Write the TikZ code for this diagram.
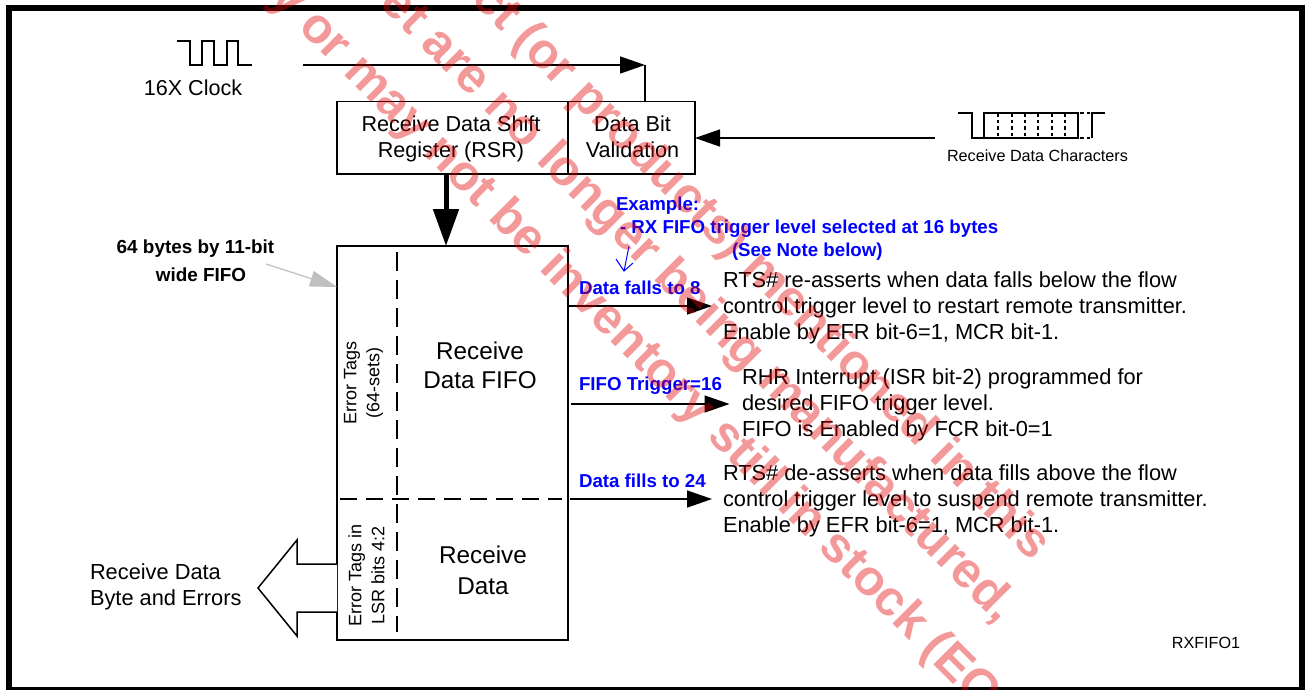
\documentclass[tikz,border=0pt]{standalone}
\usepackage{fontspec}
\setmainfont{Liberation Sans}
\usetikzlibrary{arrows.meta}
\definecolor{noteblue}{RGB}{0,0,255}
\definecolor{arrowgrey}{RGB}{192,192,192}
\tikzset{
  every node/.style={inner sep=0pt,outer sep=0pt},
  box/.style={draw=black,line width=1.5pt,anchor=north west},
  wire/.style={line width=1.5pt,draw=black},
  thin wave/.style={line width=1.2pt,draw=black},
  head/.style={-{Triangle[length=25pt,width=17pt]}},
  dashline/.style={line width=1.4pt,dash pattern=on 17pt off 9pt},
  dashlinev/.style={line width=1.4pt,dash pattern=on 19pt off 9pt},
  body/.style={font=\fontsize{21.8}{26}\selectfont,align=left,anchor=west,text=black},
  bodyc/.style={font=\fontsize{21.6}{26}\selectfont,align=center,text=black},
  bigc/.style={font=\fontsize{24.3}{31}\selectfont,align=center,text=black},
  vert/.style={font=\fontsize{18}{23}\selectfont,rotate=90,align=center,text=black},
  small/.style={font=\fontsize{16.2}{18}\selectfont,text=black},
  bluetxt/.style={font=\fontsize{18.7}{23}\selectfont\bfseries,text=noteblue,anchor=west},
  blacktxt/.style={font=\fontsize{18.9}{28}\selectfont\bfseries,align=center,text=black},
  stamp/.style={font=\fontsize{49.8}{50}\selectfont\bfseries,text=red!90!black,text opacity=0.4,rotate=-45,anchor=base west},
}
\begin{document}
\begin{tikzpicture}[x=1pt,y=-1pt]
\useasboundingbox (0,0) rectangle (1305,689);
\fill[white] (0,0) rectangle (1305,689);
\draw[line width=6pt] (9,8) rectangle (1301.5,690);

% clock
\draw[thin wave] (177,41) -- (190,41) -- (190,65) -- (202,65) -- (202,41) -- (214,41) -- (214,65) -- (227,65) -- (227,41) -- (238,41) -- (238,65) -- (252,65);
\node[bodyc] (clk) at (193,88) {16X Clock};
\coordinate (clkstart) at (303,65);
\coordinate (clkend) at (645,65);

% register boxes
\node[box,minimum width=231pt,minimum height=72.5pt] (rsr) at (337,101.5) {};
\node[box,minimum width=127pt,minimum height=72.5pt] (val) at (568,101.5) {};
\node[bodyc] (rsrt) at (451,139) {Receive Data Shift\\Register (RSR)};
\node[bodyc] (valt) at (632.5,137) {Data Bit\\Validation};
\draw[wire,head] (clkstart) -- (clkend);
\draw[wire] (clkend) -- (clkend |- val.north);

% serial data
\coordinate (rxstart) at (934.5,138);
\draw[wire,head] (rxstart) -- (val.east |- rxstart);
\draw[thin wave] (958,113) -- (972,113) -- (972,138) -- (984,138) -- (984,113) -- (1078,113) -- (1078,138) -- (984,138);
\draw[thin wave] (1092,138) -- (1092,113) -- (1105,113);
\foreach \vx in {998,1012,1025,1038,1052,1065}{
  \draw[line width=1.2pt,dash pattern=on 3.5pt off 3pt] (\vx,113) -- (\vx,138);
}
\draw[line width=1.2pt,dash pattern=on 3.5pt off 3pt] (1080,113) -- (1092,113);
\draw[line width=1.2pt,dash pattern=on 3.5pt off 3pt] (1080,138) -- (1092,138);
\node[small] (rxlab) at (1037.5,155.5) {Receive Data Characters};

% FIFO
\node[box,minimum width=231pt,minimum height=394pt] (fifo) at (337,246) {};
\coordinate (downx) at (446,174);
\draw[line width=5pt,-{Triangle[length=37pt,width=25pt]}] (downx) -- (downx |- fifo.north);
\draw[dashlinev] (397,252) -- (397,632);
\draw[dashline] (340,499) -- (562,499);
\node[vert] (etags) at (363.5,383) {Error Tags\\(64-sets)};
\node[vert] (ltags) at (366.5,575) {Error Tags in\\LSR bits 4:2};
\node[bigc] (fifot) at (480,365.5) {Receive\\[-2pt]Data FIFO};
\node[bigc] (datat) at (483,570.5) {Receive\\Data};

% annotation
\node[blacktxt] (wide) at (195.5,261) {64 bytes by 11-bit\\\hspace{11pt}wide FIFO};
\coordinate (greyfrom) at (266,264);
\draw[line width=1.2pt,draw=arrowgrey,fill=arrowgrey,-{Triangle[length=27pt,width=16pt]}] (greyfrom) -- (fifo.west |- 0,287);

% output arrow
\draw[wire,fill=white] (337,564) -- (297,564) -- (297,540) -- (258,588) -- (297,636) -- (297,612) -- (337,612);
\node[body] (outlab) at (90,587) {Receive Data\\Byte and Errors};

% blue notes
\node[bluetxt] (ex1) at (616,206) {Example:};
\node[bluetxt] (ex2) at (620,229) {- RX FIFO trigger level selected at 16 bytes};
\node[bluetxt] (ex3) at (732,252) {(See Note below)};
\node[bluetxt] (lab1) at (579,288) {Data falls to 8};
\node[bluetxt] (lab2) at (579,386) {FIFO Trigger=16};
\node[bluetxt] (lab3) at (579,480.5) {Data fills to 24};
\coordinate (bfrom) at (629,246);
\coordinate (bto) at (624,271);
\draw[noteblue,line width=1pt] (bfrom) -- (bto) (616,259) -- (bto) -- (633,263);

% right-hand texts
\node[body] (t1) at (723,308) {RTS\# re-asserts when data falls below the flow\\control trigger level to restart remote transmitter.\\Enable by EFR bit-6=1, MCR bit-1.};
\node[body] (t2) at (742,404.5) {RHR Interrupt (ISR bit-2) programmed for\\desired FIFO trigger level.\\FIFO is Enabled by FCR bit-0=1};
\node[body] (t3) at (723,501) {RTS\# de-asserts when data fills above the flow\\control trigger level to suspend remote transmitter.\\Enable by EFR bit-6=1, MCR bit-1.};
\coordinate (a1) at (712,306);
\coordinate (a2) at (729.5,404);
\coordinate (a3) at (712,499);
\draw[wire,head] (fifo.east |- a1) -- (a1);
\draw[wire,head] (571,404) -- (a2);
\draw[wire,head] (570,499) -- (a3);
\node[small] (code) at (1206,643) {RXFIFO1};

% watermark
\begin{scope}
\clip (0,0) rectangle (1305,689);
\node[stamp] (w1) at (470.5,0.5) {ct (or products) mentioned in this};
\node[stamp] (w2) at (378.5,4.5) {et are no longer being manufactured,};
\node[stamp] (w3) at (268,-1) {y or may not be inventory still in stock (EO};
\end{scope}
\end{tikzpicture}
\end{document}
